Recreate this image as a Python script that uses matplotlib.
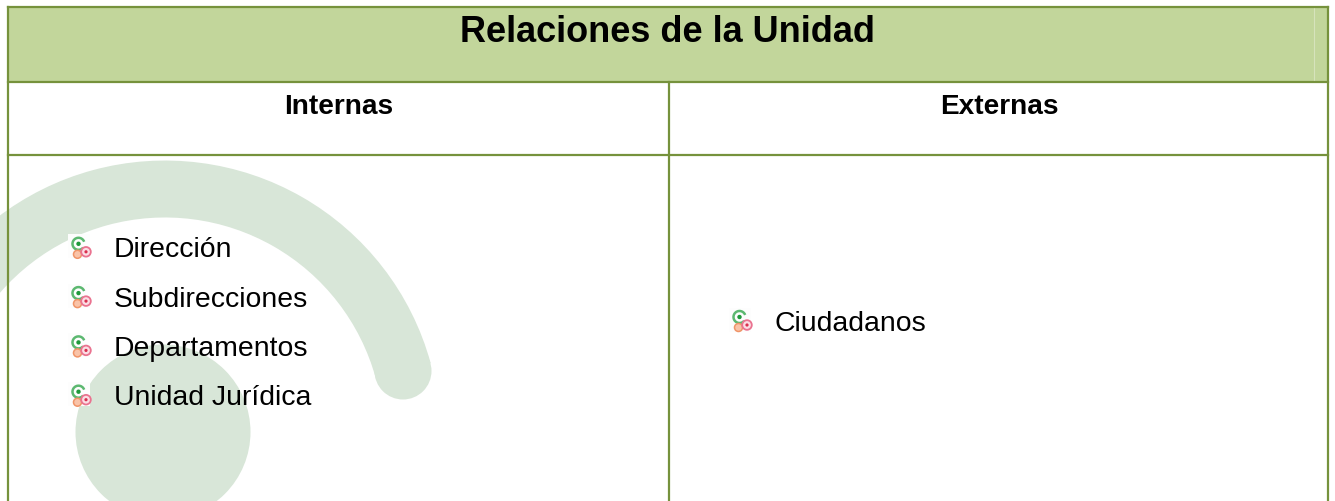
#!/usr/bin/env python

"""Table 'Relaciones de la Unidad' with a pale logo behind it."""

import matplotlib.pyplot as plt
from matplotlib.patches import Arc, Circle, Rectangle

TITLE = "Relaciones de la Unidad"
COLUMNS = ["Internas", "Externas"]
INTERNAS = ["Dirección", "Subdirecciones", "Departamentos", "Unidad Jurídica"]
EXTERNAS = ["Ciudadanos"]

BORDER = "#76923c"
HEADER = "#c2d69b"
LOGO = "#d8e6d8"


def bullet(ax, x, y):
    """Small icon: green ring with two red/orange dots; x, y is the top left corner."""
    ax.add_patch(Rectangle((x, y), 22, 24, fc="#fdfdfd", ec="none", zorder=3))
    ax.add_patch(Arc((x + 10.5, y + 9.5), 12, 12, theta1=40, theta2=340, ec="#5cb870", lw=1.8, zorder=4))
    ax.add_patch(Circle((x + 10.5, y + 9.5), 2.2, fc="#1f9a3c", ec="none", zorder=4))
    ax.add_patch(Circle((x + 9.5, y + 20), 4, fc="#f9c3a8", ec="#f09468", lw=1.1, zorder=4))
    ax.add_patch(Circle((x + 18, y + 17.5), 4.8, fc="#fbdde4", ec="#ea7390", lw=1.3, zorder=4))
    ax.add_patch(Circle((x + 18, y + 17.5), 1.6, fc="#d9304f", ec="none", zorder=4))


def main() -> None:
    fig = plt.figure(figsize=(13.35, 5.02), dpi=100)
    ax = fig.add_axes([0, 0, 1, 1])
    ax.set_xlim(0, 1335)
    ax.set_ylim(502, 0)
    ax.axis("off")
    plt.rcParams["font.family"] = ["Liberation Sans", "DejaVu Sans"]

    # logo behind the table
    ax.add_patch(Circle((163, 433), 87.5, fc=LOGO, ec="none", zorder=1))
    ax.add_patch(Arc((165, 437), 494, 494, theta1=165, theta2=344.7, ec=LOGO, lw=41, zorder=1))
    ax.add_patch(Circle((403, 372), 28.5, fc=LOGO, ec="none", zorder=1))

    # header band and rules
    ax.add_patch(Rectangle((8, 8), 1320, 75, fc=HEADER, ec="none", zorder=2))
    ax.plot([1314, 1314], [9, 82], color="#d6e3bc", lw=0.8, zorder=2)
    line = dict(color=BORDER, lw=1.6, zorder=5, solid_capstyle="projecting")
    ax.plot([8, 1328], [8, 8], **line)
    ax.plot([8, 1328], [83, 83], **line)
    ax.plot([8, 1328], [155.5, 155.5], **line)
    ax.plot([8, 8], [8, 502], **line)
    ax.plot([669, 669], [83, 502], **line)
    ax.plot([1328, 1328], [8, 502], **line)

    # texts
    ax.text(668, 42, TITLE, ha="center", va="baseline", fontsize=26, fontweight="bold", zorder=6)
    ax.text(338.5, 114.5, COLUMNS[0], ha="center", va="baseline", fontsize=20.2, fontweight="bold", zorder=6)
    ax.text(999.5, 114.5, COLUMNS[1], ha="center", va="baseline", fontsize=20.2, fontweight="bold", zorder=6)
    for i, name in enumerate(INTERNAS):
        y = 257.3 + i * 49.3
        bullet(ax, 68, y - 22)
        ax.text(114, y, name, ha="left", va="baseline", fontsize=20.4, color="black", zorder=6)
    for name in EXTERNAS:
        bullet(ax, 729, 308.5)
        ax.text(775, 331.5, name, ha="left", va="baseline", fontsize=20.4, color="black", zorder=6)

    fig.savefig("out.png", dpi=100)


if __name__ == "__main__":
    main()
